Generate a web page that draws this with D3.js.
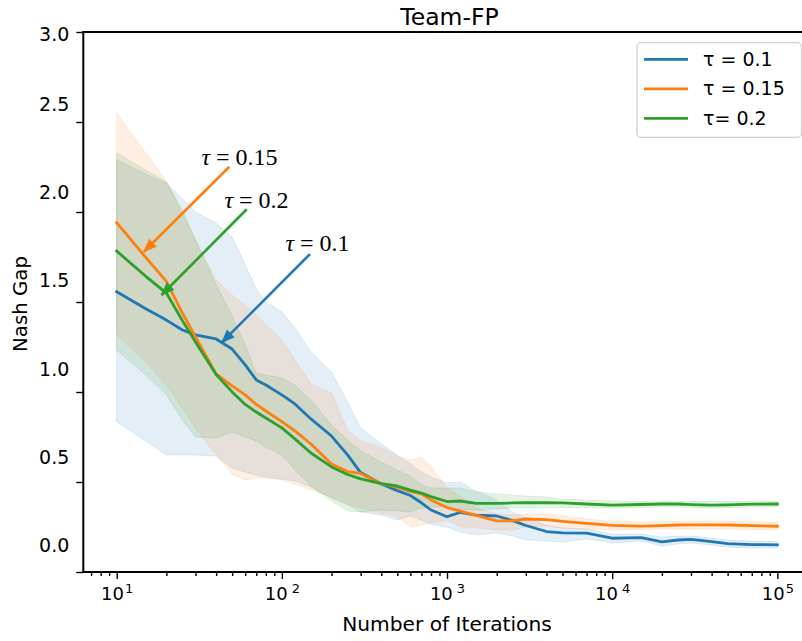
<!DOCTYPE html>
<html><head><meta charset="utf-8">
<script src="https://cdn.jsdelivr.net/npm/d3@7"></script>
<style>body{margin:0;background:#fff}svg{display:block}</style>
</head><body>
<svg id="c" width="802" height="641"></svg>
<script>
// ---------------- data ----------------
const iterations = [10,15,20,25,30,40,50,60,70,80,100,120,150,200,250,300,400,500,600,700,800,1000,1200,1500,2000,2500,3000,4000,5000,7000,10000,15000,20000,25000,30000,40000,50000,70000,100000];

const blueMean = [1.441,1.344,1.280,1.224,1.196,1.173,1.116,1.026,0.941,0.912,0.856,0.805,0.720,0.623,0.516,0.416,0.351,0.314,0.286,0.245,0.204,0.166,0.190,0.175,0.170,0.144,0.116,0.082,0.074,0.073,0.044,0.048,0.023,0.034,0.037,0.025,0.014,0.008,0.007];
const blueLow  = [0.704,0.595,0.516,0.516,0.516,0.510,0.442,0.419,0.402,0.391,0.380,0.368,0.334,0.272,0.232,0.193,0.176,0.147,0.170,0.147,0.125,0.108,0.079,0.062,0.074,0.057,0.034,0.028,0.023,0.040,0.017,0.028,0.000,0.011,0.017,0.006,-0.006,-0.011,-0.011];
const blueHigh = [2.187,2.108,2.057,1.966,1.892,1.830,1.751,1.592,1.456,1.382,1.326,1.235,1.099,0.986,0.816,0.669,0.578,0.516,0.465,0.419,0.391,0.357,0.363,0.312,0.261,0.193,0.159,0.119,0.102,0.096,0.068,0.068,0.051,0.057,0.057,0.045,0.034,0.028,0.025];

const orangeMean = [1.832,1.635,1.499,1.320,1.184,0.975,0.907,0.856,0.802,0.765,0.705,0.652,0.578,0.465,0.422,0.411,0.352,0.334,0.309,0.295,0.261,0.218,0.198,0.173,0.142,0.143,0.153,0.150,0.139,0.128,0.117,0.113,0.116,0.119,0.120,0.120,0.119,0.116,0.112];
const orangeLow  = [1.195,1.042,0.912,0.782,0.669,0.516,0.408,0.374,0.385,0.385,0.374,0.351,0.317,0.278,0.238,0.215,0.187,0.164,0.108,0.119,0.130,0.147,0.108,0.102,0.091,0.091,0.108,0.113,0.102,0.096,0.092,0.094,0.095,0.096,0.097,0.097,0.096,0.094,0.092];
const orangeHigh = [2.453,2.227,2.068,1.881,1.734,1.507,1.422,1.365,1.309,1.252,1.167,1.054,0.918,0.867,0.657,0.595,0.561,0.510,0.487,0.504,0.453,0.329,0.283,0.215,0.181,0.176,0.181,0.181,0.170,0.153,0.142,0.136,0.138,0.141,0.142,0.142,0.141,0.138,0.133];

const greenMean = [1.671,1.528,1.433,1.277,1.156,0.972,0.873,0.802,0.759,0.725,0.669,0.607,0.527,0.448,0.405,0.380,0.354,0.340,0.317,0.300,0.280,0.252,0.255,0.241,0.241,0.244,0.245,0.245,0.244,0.238,0.232,0.235,0.238,0.238,0.235,0.232,0.233,0.237,0.238];
const greenLow  = [1.110,0.969,0.856,0.714,0.618,0.612,0.646,0.618,0.595,0.561,0.516,0.431,0.340,0.255,0.198,0.193,0.204,0.198,0.193,0.215,0.221,0.221,0.204,0.204,0.210,0.215,0.215,0.218,0.218,0.218,0.216,0.218,0.221,0.221,0.218,0.216,0.217,0.221,0.222];
const greenHigh = [2.227,2.130,2.062,1.904,1.734,1.479,1.303,1.139,0.980,0.969,0.952,0.912,0.827,0.686,0.601,0.538,0.476,0.431,0.397,0.346,0.329,0.329,0.329,0.306,0.295,0.289,0.283,0.278,0.266,0.261,0.255,0.254,0.254,0.254,0.253,0.252,0.252,0.253,0.254];

const seriesNames = ["τ = 0.1", "τ = 0.15", "τ= 0.2"];
const seriesColors = ["#1f77b4", "#ff7f0e", "#2ca02c"];

const xMajorTicks = [10, 100, 1000, 10000, 100000];
const xMajorExponents = ["1", "2", "3", "4", "5"];
const yTickValues = [0, 0.5, 1.0, 1.5, 2.0, 2.5, 3.0];
const yTickLabels = ["0.0", "0.5", "1.0", "1.5", "2.0", "2.5", "3.0"];

// annotations: label, arrow tip (iteration, value), arrow tail (iteration, value), text centre (iteration, value)
const annLabels   = ["0.15", "0.2", "0.1"];
const annTipIt    = [14.6, 18.7, 43.2];
const annTipVal   = [1.667, 1.422, 1.152];
const annTailIt   = [48.1, 61.3, 148.1];
const annTailVal  = [2.149, 1.908, 1.654];
const annTextIt   = [55.4, 70.2, 164.4];
const annTextVal  = [2.204, 1.960, 1.717];
const annColor    = [1, 2, 0];

// ---------------- drawing ----------------
const svg = d3.select("#c");
const L = 83.3, R = 816, T = 32, B = 572;
const x = d3.scaleLog().domain([6.28, Math.pow(10, 5.234)]).range([L, R]);
const y = d3.scaleLinear().domain([-0.1473, 2.9122]).range([B, T]);

const defs = svg.append("defs");
defs.append("clipPath").attr("id", "clip").append("rect")
  .attr("x", L).attr("y", T).attr("width", R - L).attr("height", B - T);

const means = [blueMean, orangeMean, greenMean];
const lows = [blueLow, orangeLow, greenLow];
const highs = [blueHigh, orangeHigh, greenHigh];
const series = means.map((m, s) => iterations.map((it, i) => ({it, v: m[i], lo: lows[s][i], hi: highs[s][i]})));

const plot = svg.append("g").attr("clip-path", "url(#clip)");
const area = d3.area().x(d => x(d.it)).y0(d => y(d.lo)).y1(d => y(d.hi));
const line = d3.line().x(d => x(d.it)).y(d => y(d.v));

series.forEach((data, s) => {
  plot.append("path").datum(data).attr("d", area)
    .attr("fill", seriesColors[s]).attr("fill-opacity", 0.12)
    .attr("stroke", seriesColors[s]).attr("stroke-opacity", 0.12).attr("stroke-width", 1);
});
series.forEach((data, s) => {
  plot.append("path").datum(data).attr("d", line)
    .attr("fill", "none").attr("stroke", seriesColors[s]).attr("stroke-width", 2.8)
    .attr("stroke-linejoin", "round").attr("stroke-linecap", "square");
});

// axes ticks
const minorTicks = x.ticks().filter(t => !xMajorTicks.includes(t) && t >= x.domain()[0] && t <= x.domain()[1]);
const gxMinor = svg.append("g").attr("transform", `translate(0,${B})`)
  .call(d3.axisBottom(x).tickValues(minorTicks).tickSize(4).tickFormat(""));
const gx = svg.append("g").attr("transform", `translate(0,${B})`)
  .call(d3.axisBottom(x).tickValues(xMajorTicks).tickSize(7).tickFormat(""));
[gxMinor, gx].forEach(g => {
  g.select(".domain").remove();
  g.selectAll(".tick line").attr("stroke", "#000").attr("stroke-width", 1.4);
});
gx.selectAll(".tick").each(function(d, i) {
  const t = d3.select(this).append("text")
    .attr("y", 28).attr("fill", "#000").attr("text-anchor", "middle")
    .style("font-family", "'DejaVu Sans'").style("font-size", "18px");
  const sp = (i === 0 || i === 4) ? 1 : 4;
  t.append("tspan").text("10");
  t.append("tspan").attr("dx", sp).attr("dy", -7).style("font-size", "13px").text(xMajorExponents[i]);
});

const tickScale = d3.scaleLinear().domain([0, 6]).range([B, T]);
const gyTicks = svg.append("g").attr("transform", `translate(${L},0)`)
  .call(d3.axisLeft(tickScale).ticks(6).tickSize(7).tickFormat(""));
gyTicks.select(".domain").remove();
gyTicks.selectAll(".tick line").attr("stroke", "#000").attr("stroke-width", 1.4);

const gyLab = svg.append("g").attr("transform", `translate(${L},0)`)
  .call(d3.axisLeft(y).tickValues(yTickValues).tickSize(0).tickPadding(14)
        .tickFormat((d, i) => yTickLabels[i]));
gyLab.select(".domain").remove();
gyLab.selectAll(".tick").attr("transform", d => `translate(0,${Math.max(y(d), 35)})`);
gyLab.selectAll(".tick text").attr("fill", "#000")
  .style("font-family", "'DejaVu Sans'").style("font-size", "19px");

// spines
svg.append("line").attr("x1", L).attr("x2", L).attr("y1", T - 1).attr("y2", B + 1).attr("stroke", "#000").attr("stroke-width", 2);
svg.append("line").attr("x1", L - 1).attr("x2", R).attr("y1", B).attr("y2", B).attr("stroke", "#000").attr("stroke-width", 2);
svg.append("line").attr("x1", L - 1).attr("x2", R).attr("y1", T).attr("y2", T).attr("stroke", "#000").attr("stroke-width", 2);

// title & labels
svg.append("text").attr("x", 449.5).attr("y", 25).attr("text-anchor", "middle")
  .style("font-family", "'DejaVu Sans'").style("font-size", "23.5px").text("Team-FP");
svg.append("text").attr("x", 447).attr("y", 631).attr("text-anchor", "middle")
  .style("font-family", "'DejaVu Sans'").style("font-size", "20.2px").text("Number of Iterations");
svg.append("text").attr("transform", "translate(27,304) rotate(-90)").attr("text-anchor", "middle")
  .style("font-family", "'DejaVu Sans'").style("font-size", "19.8px").text("Nash Gap");

// annotations
annLabels.forEach((lab, i) => {
  const c = seriesColors[annColor[i]];
  defs.append("marker").attr("id", "ah" + i).attr("markerUnits", "userSpaceOnUse")
    .attr("markerWidth", 16).attr("markerHeight", 12).attr("refX", 13).attr("refY", 5.5)
    .attr("orient", "auto").append("path").attr("d", "M0,0 L14,5.5 L0,11 Z").attr("fill", c);
  svg.append("line")
    .attr("x1", x(annTailIt[i])).attr("y1", y(annTailVal[i]))
    .attr("x2", x(annTipIt[i])).attr("y2", y(annTipVal[i]))
    .attr("stroke", c).attr("stroke-width", 2.6).attr("marker-end", `url(#ah${i})`);
  const t = svg.append("text").attr("x", x(annTextIt[i])).attr("y", y(annTextVal[i]))
    .attr("dy", "0.35em").attr("text-anchor", "middle")
    .style("font-family", "'Liberation Serif', 'DejaVu Serif', serif").style("font-size", "24px");
  t.append("tspan").style("font-style", "italic").text("τ");
  t.append("tspan").text(" = " + lab);
});

// legend
const lg = svg.append("g");
lg.append("rect").attr("x", 637).attr("y", 42.7).attr("width", 164.5).attr("height", 94.6)
  .attr("rx", 4).attr("fill", "#fff").attr("fill-opacity", 0.8).attr("stroke", "#d0d0d0").attr("stroke-width", 1.3);
seriesNames.forEach((n, i) => {
  const yy = 59.3 + i * 29.5;
  lg.append("line").attr("x1", 644).attr("x2", 688).attr("y1", yy).attr("y2", yy)
    .attr("stroke", seriesColors[i]).attr("stroke-width", 2.8);
  lg.append("text").attr("x", 703).attr("y", yy).attr("dy", "0.35em")
    .style("font-family", "'DejaVu Sans'").style("font-size", "19px").text(n);
});
</script>
</body></html>
